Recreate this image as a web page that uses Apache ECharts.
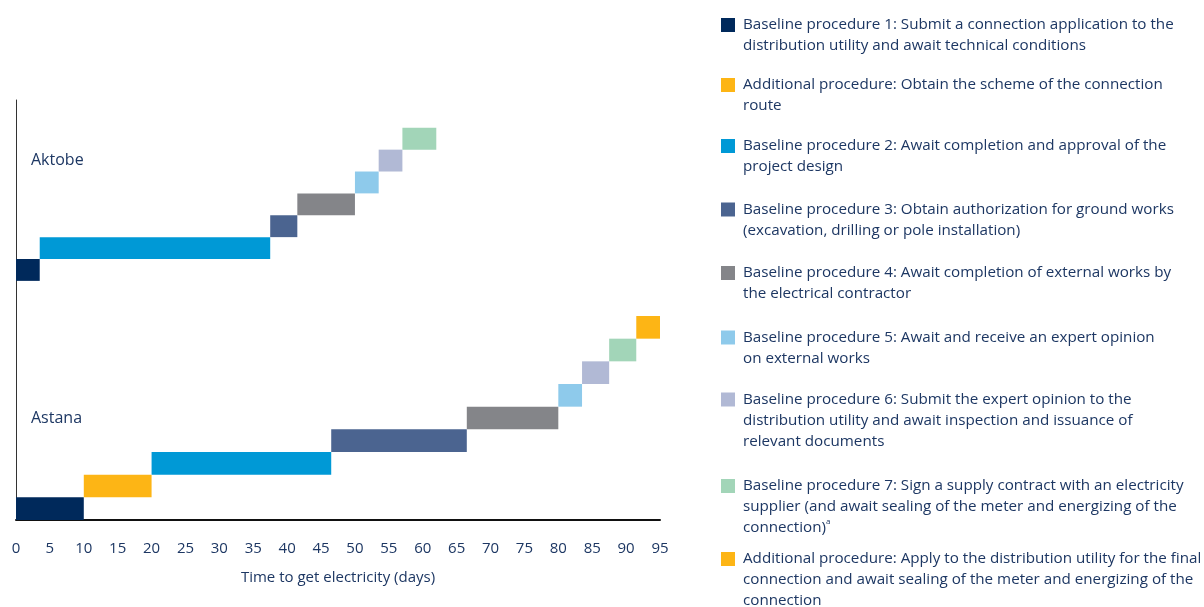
<!DOCTYPE html>
<html>
<head>
<meta charset="utf-8">
<script src="https://cdn.jsdelivr.net/npm/echarts@6/dist/echarts.min.js"></script>
<style>
  html, body { margin: 0; padding: 0; background: #ffffff; }
  #chart { width: 1204px; height: 607px; }
</style>
</head>
<body>
<div id="chart"></div>
<script>
// ---- Data -------------------------------------------------------------
// Procedure series (names used by the legend)
const procedures = [
  'Baseline procedure 1',
  'Additional procedure (route scheme)',
  'Baseline procedure 2',
  'Baseline procedure 3',
  'Baseline procedure 4',
  'Baseline procedure 5',
  'Baseline procedure 6',
  'Baseline procedure 7',
  'Additional procedure (final connection)'
];

const procedureText = [
  'Baseline procedure 1: Submit a connection application to the\ndistribution utility and await technical conditions',
  'Additional procedure: Obtain the scheme of the connection\nroute',
  'Baseline procedure 2: Await completion and approval of the\nproject design',
  'Baseline procedure 3: Obtain authorization for ground works\n(excavation, drilling or pole installation)',
  'Baseline procedure 4: Await completion of external works by\nthe electrical contractor',
  'Baseline procedure 5: Await and receive an expert opinion\non external works',
  'Baseline procedure 6: Submit the expert opinion to the\ndistribution utility and await inspection and issuance of\nrelevant documents',
  'Baseline procedure 7: Sign a supply contract with an electricity\nsupplier (and await sealing of the meter and energizing of the\nconnection){sup|a}',
  'Additional procedure: Apply to the distribution utility for the final\nconnection and await sealing of the meter and energizing of the\nconnection'
];

const cities = ['Astana', 'Aktobe'];

// Sequence of procedures per city (indices into procedures) and the day each one ends
const astanaSteps   = [0, 1, 2, 3, 4, 5, 6, 7, 8];
const astanaEndDays = [10, 20, 46.5, 66.5, 80, 83.5, 87.5, 91.5, 95];

const aktobeSteps   = [0, 2, 3, 4, 5, 6, 7];
const aktobeEndDays = [3.5, 37.5, 41.5, 50, 53.5, 57, 62];

// ---- Styling / layout -------------------------------------------------
const colors = ['#00295b', '#fdb515', '#0099d6', '#4b6490', '#848589',
                '#8ecaeb', '#b1b9d5', '#a2d5b8', '#fdb515'];
const textColor = '#1d3763';
const fontFamily = '"Open Sans", "Liberation Sans", sans-serif';

// vertical placement of each city's staircase (in row units of the hidden y axis)
const cityLayout = {
  Astana: { base: 0,     rowHeight: 1 },
  Aktobe: { base: 10.55, rowHeight: 0.965 }
};
const legendCenters = [25, 85, 146, 209.5, 273, 337.5, 399.5, 486, 559];
const legendLineHeight = 21;

// ---- Build series data ------------------------------------------------
function buildSpans(city, steps, ends) {
  const lay = cityLayout[city];
  return steps.map((proc, i) => {
    const start = i === 0 ? 0 : ends[i - 1];
    const y0 = lay.base + i * lay.rowHeight;
    return { proc, item: [start, ends[i], y0, y0 + lay.rowHeight] };
  });
}
const spans = buildSpans('Astana', astanaSteps, astanaEndDays)
  .concat(buildSpans('Aktobe', aktobeSteps, aktobeEndDays));

function renderBar(params, api) {
  const p0 = api.coord([api.value(0), api.value(2)]);
  const p1 = api.coord([api.value(1), api.value(3)]);
  return {
    type: 'rect',
    shape: { x: p0[0], y: p1[1], width: p1[0] - p0[0], height: p0[1] - p1[1] },
    style: { fill: api.visual('color') }
  };
}

const series = procedures.map((name, k) => ({
  name,
  type: 'custom',
  renderItem: renderBar,
  color: colors[k],
  encode: { x: [0, 1], y: [2, 3] },
  clip: false,
  silent: true,
  data: spans.filter(s => s.proc === k).map(s => s.item)
}));

const legends = procedures.map((name, k) => {
  const n = procedureText[k].split('\n').length;
  return {
    data: [name],
    orient: 'vertical',
    left: 721,
    top: legendCenters[k] - (2 * n - 1) * legendLineHeight / 2,
    padding: 0,
    icon: 'rect',
    itemWidth: 14,
    itemHeight: 14,
    selectedMode: false,
    formatter: () => procedureText[k],
    textStyle: {
      fontFamily, fontSize: 15.2, color: textColor,
      lineHeight: legendLineHeight,
      padding: [(n - 1) * legendLineHeight, 0, 0, 3],
      rich: {
        sup: { fontFamily, fontSize: 8, color: textColor, verticalAlign: 'top', lineHeight: 12 }
      }
    }
  };
});

const chart = echarts.init(document.getElementById('chart'));
chart.setOption({
  backgroundColor: '#ffffff',
  animation: false,
  grid: { left: 16, top: 100, width: 644, height: 420, containLabel: false, outerBoundsMode: 'none' },
  xAxis: {
    type: 'value',
    min: 0, max: 95, interval: 5,
    name: 'Time to get electricity (days)',
    nameLocation: 'middle',
    nameGap: 50,
    nameTextStyle: { fontFamily, fontSize: 15, color: textColor },
    axisLine: { show: true, lineStyle: { color: '#111111', width: 2 } },
    axisTick: { show: false },
    splitLine: { show: false },
    axisLabel: { fontFamily, fontSize: 15, color: textColor, margin: 21 }
  },
  yAxis: {
    type: 'value',
    min: 0, max: 18.53,
    axisLine: { show: true, onZero: false, lineStyle: { color: '#333333', width: 1 } },
    axisTick: { show: false },
    axisLabel: { show: false },
    splitLine: { show: false }
  },
  legend: legends,
  graphic: cities.map((city, i) => ({
    type: 'text',
    left: 31,
    top: i === 0 ? 410 : 152,
    style: { text: city, fontFamily, fontSize: 16, fill: textColor }
  })),
  series
});
</script>
</body>
</html>
